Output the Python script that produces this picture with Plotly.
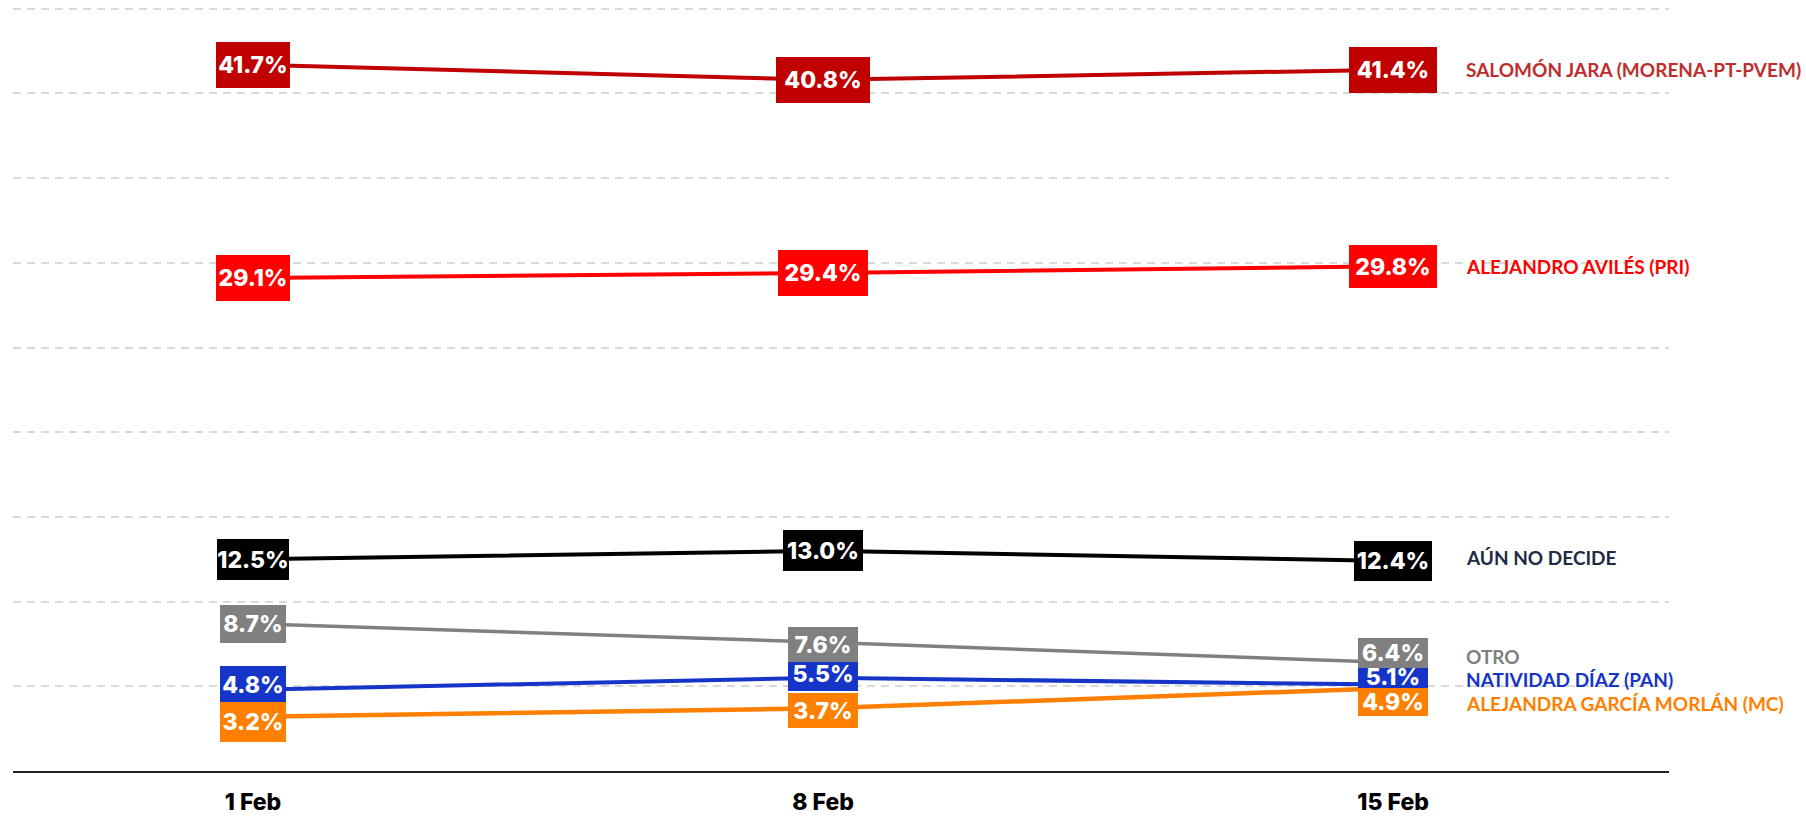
import plotly.graph_objects as go

dates = ["1 Feb", "8 Feb", "15 Feb"]

series_names = [
    "SALOMÓN JARA (MORENA-PT-PVEM)",
    "ALEJANDRO AVILÉS (PRI)",
    "AÚN NO DECIDE",
    "NATIVIDAD DÍAZ (PAN)",
    "OTRO",
    "ALEJANDRA GARCÍA MORLÁN (MC)",
]

jara = [41.7, 40.8, 41.4]
aviles = [29.1, 29.4, 29.8]
aun_no_decide = [12.5, 13.0, 12.4]
natividad = [4.8, 5.5, 5.1]
otro = [8.7, 7.6, 6.4]
alejandra = [3.2, 3.7, 4.9]

series_values = [jara, aviles, aun_no_decide, natividad, otro, alejandra]

# styles
line_colors = ["#C00000", "#FF0000", "#000000", "#1535C9", "#808080", "#FF7F00"]
name_colors = ["#BE2E2E", "#FF0000", "#1F2A44", "#1535C9", "#7F7F7F", "#FF8000"]
line_widths = [4, 4, 4, 4, 3.5, 4.5]

# label box offsets (px, positive = up) to avoid overlaps, per series per date
box_shift = [
    [0, 0, 0],
    [0, 0, 0],
    [0, 0, 0],
    [5, 4, 8],
    [0, -2, 10],
    [-5, -2, -14],
]
box_height = [
    [46, 46, 46],
    [46, 46, 43],
    [41, 41, 40],
    [38, 35, 30],
    [38, 35, 30],
    [40, 35, 28],
]
box_width = [
    [74, 94, 88],
    [74, 90, 88],
    [72, 80, 78],
    [66, 70, 70],
    [66, 70, 70],
    [66, 70, 70],
]
name_shift = [0, 0, 3, 5, 6, -15]

fig = go.Figure()

for name, vals, col, lw in zip(series_names, series_values, line_colors, line_widths):
    fig.add_trace(go.Scatter(
        x=dates, y=vals, mode="lines", name=name,
        line=dict(color=col, width=lw),
        hoverinfo="skip", showlegend=False,
    ))

annotations = []
for si, (vals, col) in enumerate(zip(series_values, line_colors)):
    for di, (d, v) in enumerate(zip(dates, vals)):
        annotations.append(dict(
            x=d, y=v, xref="x", yref="y",
            text=f"{v:.1f}%",
            showarrow=False,
            bgcolor=col,
            borderwidth=0, borderpad=0,
            width=box_width[si][di],
            height=box_height[si][di],
            yshift=box_shift[si][di],
            font=dict(family="Inter, sans-serif", size=23, color="white", weight=800),
            xanchor="center", yanchor="middle",
        ))

for si, (name, vals, col) in enumerate(zip(series_names, series_values, name_colors)):
    annotations.append(dict(
        x=dates[-1], y=vals[-1], xref="x", yref="y",
        text=name, showarrow=False,
        xanchor="left", yanchor="middle",
        xshift=71, yshift=name_shift[si],
        font=dict(family="Lato, sans-serif", size=19, color=col, weight=700),
    ))

fig.update_layout(
    width=1806, height=816,
    margin=dict(l=13, r=137, t=5, b=45, autoexpand=False),
    paper_bgcolor="white", plot_bgcolor="white",
    annotations=annotations,
    hovermode=False,
    xaxis=dict(
        type="category",
        range=[-0.421, 2.484],
        showgrid=False,
        showline=True, linecolor="#222222", linewidth=2,
        ticks="",
        automargin=False,
        ticklabelstandoff=9,
        tickfont=dict(family="Inter, sans-serif", size=23, color="#000000", weight=800),
        zeroline=False,
    ),
    yaxis=dict(
        range=[0, 45.22],
        dtick=5,
        automargin=False,
        showgrid=True, gridcolor="#D9D9D9", gridwidth=1.5, griddash="8px,6px",
        showticklabels=False,
        zeroline=False, showline=False, ticks="",
    ),
)

fig.write_html(
    "out.html",
    config={"displayModeBar": False},
    post_script="document.body.style.margin='0';document.body.style.overflow='hidden';",
)
